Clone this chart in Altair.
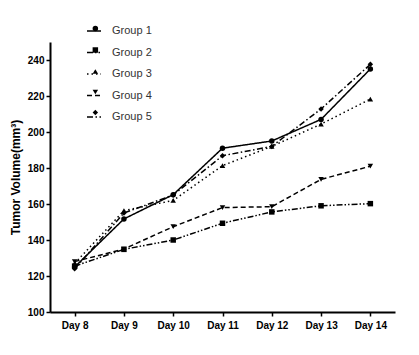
import altair as alt
import pandas as pd

days = ["Day 8", "Day 9", "Day 10", "Day 11", "Day 12", "Day 13", "Day 14"]
groups = ["Group 1", "Group 2", "Group 3", "Group 4", "Group 5"]
markers = ["m1", "m2", "m3", "m4", "m5"]
g1 = [125, 151.7, 165.2, 191, 195, 207, 235]
g2 = [125.5, 134.8, 140, 149.3, 155.6, 159, 160.2]
g3 = [127, 156.3, 162, 181.3, 192, 204.4, 218.3]
g4 = [128, 135, 147.4, 158, 158.5, 173.7, 181]
g5 = [124, 155, 165, 186.8, 192, 212.8, 237.6]

rows = []
for g, m, vals in zip(groups, markers, [g1, g2, g3, g4, g5]):
    for d, v in zip(days, vals):
        rows.append({"Day": d, "Group": g, "Marker": m, "Volume": v})
df = pd.DataFrame(rows)

font = "Liberation Sans"
x = alt.X("Day:N", sort=days, title=None,
          scale=alt.Scale(type="point", padding=0.5),
          axis=alt.Axis(labelAngle=0, labelFontWeight="bold", labelFontSize=10,
                        labelFont=font, labelColor="black", domainColor="black",
                        domainWidth=2, tickColor="black", tickWidth=1.5, tickSize=4,
                        labelPadding=4))
y = alt.Y("Volume:Q", title="Tumor Volume(mm³)",
          scale=alt.Scale(domain=[100, 250], nice=False, zero=False),
          axis=alt.Axis(values=[100, 120, 140, 160, 180, 200, 220, 240], grid=False,
                        labelFontWeight="bold", labelFontSize=10, labelFont=font,
                        labelColor="black", domainColor="black", domainWidth=2,
                        tickColor="black", tickWidth=1.5, tickSize=4,
                        titleFont=font, titleFontSize=12, titleFontWeight="bold",
                        titleColor="black", titlePadding=5))

LX, LY = 36, -19
dash = alt.StrokeDash("Group:N", scale=alt.Scale(domain=groups,
                      range=[[1, 0], [6, 2, 1.5, 2, 1.5, 2], [1.5, 3], [5, 3], [6, 2.5, 1.5, 2.5]]),
                      legend=alt.Legend(title=None, orient="none", legendX=LX, legendY=LY,
                                        symbolType="stroke", symbolSize=196,
                                        symbolStrokeWidth=1.5, labelOffset=10))
shape = alt.Shape("Marker:N", scale=alt.Scale(domain=markers,
                  range=["circle", "square", "triangle-up", "triangle-down", "diamond"]),
                  legend=alt.Legend(title=None, orient="none", legendX=LX + 3.85, legendY=LY,
                                    symbolSize=30, labelExpr="''", labelOffset=10))

lines = alt.Chart(df).mark_line(color="black", strokeWidth=1.5).encode(x=x, y=y, strokeDash=dash)
pts = alt.Chart(df).mark_point(filled=True, color="black", size=30, opacity=1).encode(x=x, y=y, shape=shape)

chart = alt.layer(lines, pts).properties(
    width=345, height=270,
    padding={"left": 50, "top": 42, "right": 24, "bottom": 43},
    autosize=alt.AutoSizeParams(type="none"),
).configure_view(stroke=None).configure_legend(
    labelFont=font, labelFontSize=11, padding=0,
    labelColor="#333333", rowPadding=8.5, symbolStrokeColor="black",
    symbolFillColor="black"
)

chart.save("out.html", embed_options={"renderer": "svg", "actions": False})
